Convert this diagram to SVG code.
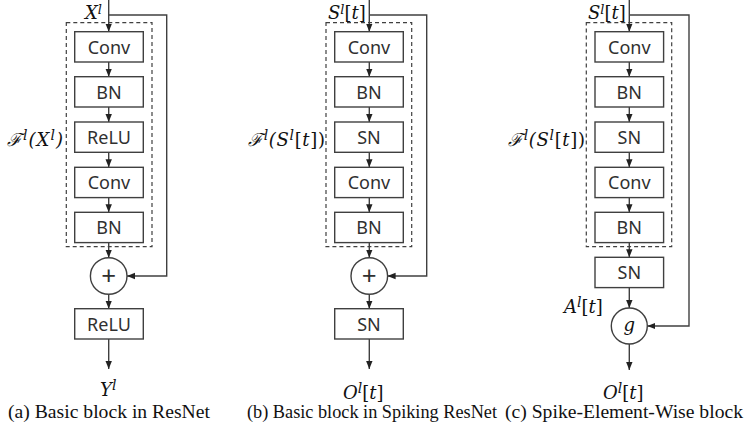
<svg xmlns="http://www.w3.org/2000/svg" width="750" height="438" viewBox="0 0 750 438">
<style>
.box{fill:#fff;stroke:#404040;stroke-width:1.4}
.dash{fill:none;stroke:#404040;stroke-width:1.2;stroke-dasharray:4 3}
.ln{fill:none;stroke:#404040;stroke-width:1.4}
.lbl{font-family:"Noto Sans",sans-serif;font-size:18px;fill:#303030;text-anchor:middle}
.plus{font-family:"Noto Sans",sans-serif;font-size:26px;fill:#303030;text-anchor:middle}
.m{font-family:"DejaVu Serif","Liberation Serif",serif;font-style:italic;font-size:18px;fill:#111}
.mu{font-style:normal}
.cap{font-family:"Liberation Serif",serif;font-size:19px;fill:#111}
</style>
<defs>
<marker id="ah" viewBox="0 0 8 8" refX="8" refY="4" markerWidth="8" markerHeight="8" markerUnits="userSpaceOnUse" orient="auto">
<path d="M0,0.8 L8,4 L0,7.2 Z" fill="#222"/>
</marker>
</defs>
<g id="connectors">
<path class="ln" d="M108.7,0 V31.7" marker-end="url(#ah)"/>
<path class="ln" d="M108.7,15 H166.7 V276 H127" marker-end="url(#ah)"/>
<path class="ln" d="M108.7,62 V76.7" marker-end="url(#ah)"/>
<path class="ln" d="M108.7,107 V122" marker-end="url(#ah)"/>
<path class="ln" d="M108.7,152.3 V167.3" marker-end="url(#ah)"/>
<path class="ln" d="M108.7,197.7 V212.3" marker-end="url(#ah)"/>
<path class="ln" d="M108.7,242.7 V257.7" marker-end="url(#ah)"/>
<path class="ln" d="M108.7,294.3 V308.7" marker-end="url(#ah)"/>
<path class="ln" d="M108.7,339 V369" marker-end="url(#ah)"/>
<path class="ln" d="M369.3,0 V31.7" marker-end="url(#ah)"/>
<path class="ln" d="M369.3,15 H426.7 V276 H387.6" marker-end="url(#ah)"/>
<path class="ln" d="M369.3,62 V76.7" marker-end="url(#ah)"/>
<path class="ln" d="M369.3,107 V122" marker-end="url(#ah)"/>
<path class="ln" d="M369.3,152.3 V167.3" marker-end="url(#ah)"/>
<path class="ln" d="M369.3,197.7 V212.3" marker-end="url(#ah)"/>
<path class="ln" d="M369.3,242.7 V257.7" marker-end="url(#ah)"/>
<path class="ln" d="M369.3,294.3 V308.7" marker-end="url(#ah)"/>
<path class="ln" d="M369.3,339 V369" marker-end="url(#ah)"/>
<path class="ln" d="M629.3,0 V31.7" marker-end="url(#ah)"/>
<path class="ln" d="M629.3,15 H689 V326 H647.3" stroke="#222" marker-end="url(#ah)"/>
<path class="ln" d="M629.3,62 V76.7" marker-end="url(#ah)"/>
<path class="ln" d="M629.3,107 V122" marker-end="url(#ah)"/>
<path class="ln" d="M629.3,152.3 V167.3" marker-end="url(#ah)"/>
<path class="ln" d="M629.3,197.7 V212.3" marker-end="url(#ah)"/>
<path class="ln" d="M629.3,242.7 V257.3" marker-end="url(#ah)"/>
<path class="ln" d="M629.3,287.7 V308" marker-end="url(#ah)"/>
<path class="ln" d="M629.3,344 V370" marker-end="url(#ah)"/>
</g>
<g id="a-residual"><rect class="dash" x="66.3" y="22.7" width="85.7" height="224"/>
<text class="m" x="7" y="146" textLength="56">ℱ<tspan font-size="14" dy="-6">l</tspan><tspan dy="6">(X</tspan><tspan font-size="14" dy="-6">l</tspan><tspan dy="6">)</tspan></text></g>
<g id="a-in"><text class="m" x="85" y="19">X<tspan font-size="13" dy="-5">l</tspan></text></g>
<g id="a-conv1"><rect class="box" x="74.7" y="31.7" width="68.6" height="30.3"/><text class="lbl" x="109" y="53.5">Conv</text></g>
<g id="a-bn1"><rect class="box" x="74.7" y="76.7" width="68.6" height="30.3"/><text class="lbl" x="109" y="98.5">BN</text></g>
<g id="a-relu1"><rect class="box" x="74.7" y="122" width="68.6" height="30.3"/><text class="lbl" x="109" y="143.8">ReLU</text></g>
<g id="a-conv2"><rect class="box" x="74.7" y="167.3" width="68.6" height="30.3"/><text class="lbl" x="109" y="189.1">Conv</text></g>
<g id="a-bn2"><rect class="box" x="74.7" y="212.3" width="68.6" height="30.3"/><text class="lbl" x="109" y="234.1">BN</text></g>
<g id="a-add"><circle class="box" cx="108.7" cy="276" r="18.3"/><text class="plus" x="108.7" y="285">+</text></g>
<g id="a-relu2"><rect class="box" x="74.7" y="308.7" width="68.6" height="30.3"/><text class="lbl" x="109" y="330.5">ReLU</text></g>
<g id="a-out"><text class="m" x="100" y="396">Y<tspan font-size="14" dy="-6">l</tspan></text></g>
<text class="cap" x="8" y="418" textLength="202" lengthAdjust="spacingAndGlyphs">(a) Basic block in ResNet</text>
<g id="b-residual"><rect class="dash" x="326" y="22.7" width="85.7" height="224"/>
<text class="m" x="248" y="146" textLength="77">ℱ<tspan font-size="14" dy="-6">l</tspan><tspan dy="6">(S</tspan><tspan font-size="14" dy="-6">l</tspan><tspan dy="6" class="mu">[</tspan>t<tspan class="mu">])</tspan></text></g>
<g id="b-in"><text class="m" x="328" y="19">S<tspan font-size="13" dy="-5">l</tspan><tspan dy="5" class="mu">[</tspan>t<tspan class="mu">]</tspan></text></g>
<g id="b-conv1"><rect class="box" x="334.7" y="31.7" width="68.6" height="30.3"/><text class="lbl" x="369" y="53.5">Conv</text></g>
<g id="b-bn1"><rect class="box" x="334.7" y="76.7" width="68.6" height="30.3"/><text class="lbl" x="369" y="98.5">BN</text></g>
<g id="b-sn1"><rect class="box" x="334.7" y="122" width="68.6" height="30.3"/><text class="lbl" x="369" y="143.8">SN</text></g>
<g id="b-conv2"><rect class="box" x="334.7" y="167.3" width="68.6" height="30.3"/><text class="lbl" x="369" y="189.1">Conv</text></g>
<g id="b-bn2"><rect class="box" x="334.7" y="212.3" width="68.6" height="30.3"/><text class="lbl" x="369" y="234.1">BN</text></g>
<g id="b-add"><circle class="box" cx="369.3" cy="276" r="18.3"/><text class="plus" x="369.3" y="285">+</text></g>
<g id="b-sn2"><rect class="box" x="334.7" y="308.7" width="68.6" height="30.3"/><text class="lbl" x="369" y="330.5">SN</text></g>
<g id="b-out"><text class="m" x="343" y="399">O<tspan font-size="14" dy="-6">l</tspan><tspan dy="6" class="mu">[</tspan>t<tspan class="mu">]</tspan></text></g>
<text class="cap" x="247" y="418" textLength="250" lengthAdjust="spacingAndGlyphs">(b) Basic block in Spiking ResNet</text>
<g id="c-residual"><rect class="dash" x="586.3" y="22.7" width="85.4" height="224"/>
<text class="m" x="508" y="146" textLength="77">ℱ<tspan font-size="14" dy="-6">l</tspan><tspan dy="6">(S</tspan><tspan font-size="14" dy="-6">l</tspan><tspan dy="6" class="mu">[</tspan>t<tspan class="mu">])</tspan></text></g>
<g id="c-in"><text class="m" x="588" y="19">S<tspan font-size="13" dy="-5">l</tspan><tspan dy="5" class="mu">[</tspan>t<tspan class="mu">]</tspan></text></g>
<g id="c-conv1"><rect class="box" x="595" y="31.7" width="68.6" height="30.3"/><text class="lbl" x="629.3" y="53.5">Conv</text></g>
<g id="c-bn1"><rect class="box" x="595" y="76.7" width="68.6" height="30.3"/><text class="lbl" x="629.3" y="98.5">BN</text></g>
<g id="c-sn1"><rect class="box" x="595" y="122" width="68.6" height="30.3"/><text class="lbl" x="629.3" y="143.8">SN</text></g>
<g id="c-conv2"><rect class="box" x="595" y="167.3" width="68.6" height="30.3"/><text class="lbl" x="629.3" y="189.1">Conv</text></g>
<g id="c-bn2"><rect class="box" x="595" y="212.3" width="68.6" height="30.3"/><text class="lbl" x="629.3" y="234.1">BN</text></g>
<g id="c-sn2"><rect class="box" x="595" y="257.3" width="68.6" height="30.3"/><text class="lbl" x="629.3" y="279.1">SN</text></g>
<g id="c-a"><text class="m" x="564" y="313">A<tspan font-size="14" dy="-6">l</tspan><tspan dy="6" class="mu">[</tspan>t<tspan class="mu">]</tspan></text></g>
<g id="c-g"><circle class="box" cx="629.3" cy="326" r="18"/><text class="m" x="629.3" y="331" text-anchor="middle" font-size="20">g</text></g>
<g id="c-out"><text class="m" x="603" y="399">O<tspan font-size="14" dy="-6">l</tspan><tspan dy="6" class="mu">[</tspan>t<tspan class="mu">]</tspan></text></g>
<text class="cap" x="505" y="418" textLength="238" lengthAdjust="spacingAndGlyphs">(c) Spike-Element-Wise block</text>
</svg>
